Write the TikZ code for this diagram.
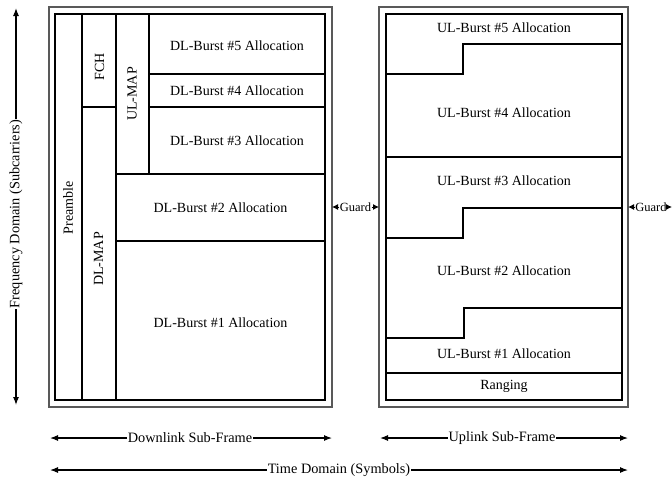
\documentclass[tikz,border=0pt]{standalone}
\usepackage{fontspec}
\setmainfont{Liberation Serif}
\usetikzlibrary{arrows.meta}
\begin{document}
\begin{tikzpicture}[x=1pt,y=-1pt,
  outerbox/.style={draw=black!65,line width=1.2pt},
  cell/.style={draw=black,line width=1.2pt},
  lbl/.style={font=\fontsize{14}{16}\selectfont,inner sep=0pt},
  vlbl/.style={lbl,rotate=90},
  glbl/.style={font=\fontsize{12.5}{14}\selectfont,inner sep=0.4pt},
  axlbl/.style={font=\fontsize{14.3}{16}\selectfont,inner sep=0.8pt},
  arr/.style={line width=1.1pt,-{Latex[length=8pt,width=6pt]}},
  garr/.style={line width=1pt,-{Latex[length=6pt,width=6pt]}}]
\useasboundingbox (0,0) rectangle (672,483);
% ---------- Downlink sub-frame ----------
\draw[outerbox] (49,7) rectangle (332,407);
\draw[cell] (55,14) rectangle (325,400);
\draw[cell] (82,14) -- (82,400);
\draw[cell] (116,14) -- (116,400);
\draw[cell] (149,14) -- (149,174);
\draw[cell] (82,107) -- (116,107);
\draw[cell] (149,74) -- (325,74);
\draw[cell] (149,107) -- (325,107);
\draw[cell] (116,174) -- (325,174);
\draw[cell] (116,241) -- (325,241);
\node[vlbl] (pre) at (68,208) {Preamble};
\node[vlbl] (fch) at (99.5,67) {FCH};
\node[vlbl] (dlmap) at (98.5,259) {DL-MAP};
\node[vlbl] (ulmap) at (132,94) {UL-MAP};
\node[lbl] (dl5) at (237,46) {DL-Burst \#5 Allocation};
\node[lbl] (dl4) at (237,90.5) {DL-Burst \#4 Allocation};
\node[lbl] (dl3) at (237,140.5) {DL-Burst \#3 Allocation};
\node[lbl] (dl2) at (220.5,208) {DL-Burst \#2 Allocation};
\node[lbl] (dl1) at (220.5,323) {DL-Burst \#1 Allocation};
% ---------- Uplink sub-frame ----------
\draw[outerbox] (379,7) rectangle (628,407);
\draw[cell] (386,14) rectangle (622,400);
\draw[cell] (386,74) -- (463,74) -- (463,44) -- (622,44);
\draw[cell] (386,157) -- (622,157);
\draw[cell] (386,238) -- (463,238) -- (463,208) -- (622,208);
\draw[cell] (386,338) -- (464,338) -- (464,308) -- (622,308);
\draw[cell] (386,373) -- (622,373);
\node[lbl] (ul5) at (504,28) {UL-Burst \#5 Allocation};
\node[lbl] (ul4) at (504,113) {UL-Burst \#4 Allocation};
\node[lbl] (ul3) at (504,181) {UL-Burst \#3 Allocation};
\node[lbl] (ul2) at (504,271) {UL-Burst \#2 Allocation};
\node[lbl] (ul1) at (504,354) {UL-Burst \#1 Allocation};
\node[lbl] (rng) at (504,386) {Ranging};
% ---------- Guards ----------
\coordinate (g1l) at (332,207);
\coordinate (g1r) at (379,207);
\coordinate (g2l) at (628,207);
\coordinate (g2r) at (672,207);
\node[glbl] (g1) at (355.5,207) {Guard};
\node[glbl] (g2) at (651,207) {Guard};
\draw[garr] (g1.west) -- (g1l);
\draw[garr] (g1.east) -- (g1r);
\draw[garr] (g2.west) -- (g2l);
\draw[garr] (g2.east) -- (g2r);
% ---------- Frequency axis ----------
\coordinate (ftop) at (16,8);
\coordinate (fbot) at (16,405);
\node[axlbl,rotate=90] (freq) at (16,214) {Frequency Domain (Subcarriers)};
\draw[arr] (freq.east) -- (ftop);
\draw[arr] (freq.west) -- (fbot);
% ---------- Sub-frame arrows ----------
\coordinate (dll) at (50,438);
\coordinate (dlr) at (332,438);
\coordinate (ull) at (380,438);
\coordinate (ulr) at (628,438);
\coordinate (tl) at (50,470);
\coordinate (tr) at (628,470);
\node[axlbl] (dlf) at (190,438) {Downlink Sub-Frame};
\node[axlbl] (ulf) at (502,438) {Uplink Sub-Frame};
\node[axlbl] (td) at (339,470) {Time Domain (Symbols)};
\draw[arr] (dlf.west) -- (dll);
\draw[arr] (dlf.east) -- (dlr);
\draw[arr] (ulf.west) -- (ull);
\draw[arr] (ulf.east) -- (ulr);
\draw[arr] (td.west) -- (tl);
\draw[arr] (td.east) -- (tr);
\end{tikzpicture}
\end{document}
